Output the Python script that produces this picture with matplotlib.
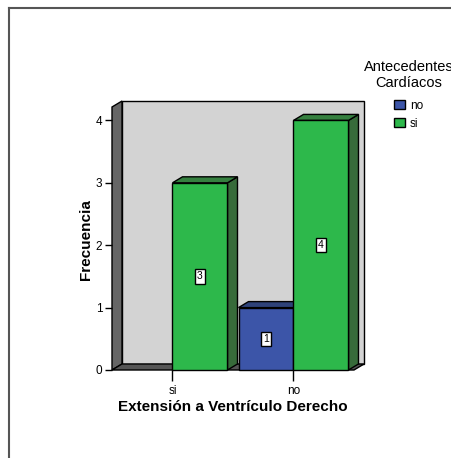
import matplotlib
matplotlib.use("Agg")
import matplotlib.pyplot as plt
from matplotlib.patches import Polygon, Rectangle, Patch
from matplotlib.lines import Line2D

plt.rcParams['font.family'] = ['Liberation Sans', 'DejaVu Sans']

# Data
categories = ["si", "no"]
series_names = ["no", "si"]
values_no = [0, 1]
values_si = [3, 4]
yticks = [0, 1, 2, 3, 4]

col_front = {"no": "#3c55a8", "si": "#2db84b"}
col_top = {"no": "#2e4279", "si": "#35803f"}
col_side = {"no": "#263563", "si": "#376b3a"}

W, H, DPI = 452, 458, 100
fig = plt.figure(figsize=(W / DPI, H / DPI), dpi=DPI)

# front plane of the plot box (pixel geometry)
left_px, right_px, bottom_px, top_px = 112, 354, 370, 107
ax = fig.add_axes([left_px / W, 1 - bottom_px / H,
                   (right_px - left_px) / W, (bottom_px - top_px) / H])
xmin, xmax = -0.5, 1.5
ymax = 4.215
ax.set_xlim(xmin, xmax)
ax.set_ylim(0, ymax)
for s in ax.spines.values():
    s.set_visible(False)
ax.patch.set_visible(False)

# depth offset of the 3D box, in data units
fig.canvas.draw()
p0 = ax.transData.transform((0, 0))
inv = ax.transData.inverted()
ddx, ddy = inv.transform((p0[0] + 10, p0[1] + 6)) - inv.transform(p0)

def face(pts, color, z):
    ax.add_patch(Polygon(pts, closed=True, facecolor=color, edgecolor="black",
                         linewidth=1.0, clip_on=False, zorder=z))

# walls
ax.add_patch(Rectangle((xmin + ddx, ddy), xmax - xmin, ymax, facecolor="#d3d3d3",
                       edgecolor="black", linewidth=1.0, clip_on=False, zorder=0.5))
face([(xmin, 0), (xmin, ymax), (xmin + ddx, ymax + ddy), (xmin + ddx, ddy)], "#666666", 0.6)
face([(xmin, 0), (xmax, 0), (xmax + ddx, ddy), (xmin + ddx, ddy)], "#555555", 0.6)

# bars
bw = 0.4545
bars = []
for i, cat in enumerate(categories):
    for j, (name, vals) in enumerate(zip(series_names, [values_no, values_si])):
        x0 = i + (j - 1) * bw
        bars.append((x0, vals[i], name))

for k, (x0, v, name) in enumerate(bars):
    z = 2 + 3 * k
    x1 = x0 + bw
    if v > 0:
        face([(x1, 0), (x1, v), (x1 + ddx, v + ddy), (x1 + ddx, ddy)], col_side[name], z)
        face([(x0, v), (x1, v), (x1 + ddx, v + ddy), (x0 + ddx, v + ddy)], col_top[name], z + 0.5)
        ax.bar(x0, v, width=bw, align="edge", color=col_front[name],
               edgecolor="black", linewidth=1.0, zorder=z + 1, clip_on=False)
        ax.text(x0 + bw / 2, v / 2, str(v), ha="center", va="center", fontsize=7.5,
                zorder=z + 2,
                bbox=dict(boxstyle="square,pad=0.22", facecolor="white",
                          edgecolor="black", linewidth=1.0))

# axes ticks
ax.set_yticks(yticks)
ax.set_yticklabels([str(t) for t in yticks], fontsize=8.5)
ax.set_xticks(range(len(categories)))
ax.set_xticklabels(categories, fontsize=8.5)
ax.tick_params(axis="y", length=5, width=1, pad=2)
ax.tick_params(axis="x", length=8, width=1, pad=3)

fig.text(86 / W, 1 - 240 / H, "Frecuencia", rotation=90, ha="center", va="center",
         fontsize=11, fontweight="bold")
fig.text(233 / W, 1 - 407 / H, "Extensión a Ventrículo Derecho", ha="center",
         va="center", fontsize=11, fontweight="bold")

# legend
leg_handles = [Patch(facecolor=col_front[n], edgecolor="black", linewidth=1.0)
               for n in series_names]
leg = fig.legend(leg_handles, series_names, title="Antecedentes\nCardíacos",
                 loc="upper left", bbox_to_anchor=(358 / W, 1 - 54 / H),
                 frameon=False, fontsize=8.5, title_fontsize=10.5,
                 handlelength=0.85, handleheight=0.85, handletextpad=0.45,
                 labelspacing=0.5, borderpad=0.0)
leg._legend_box.align = "center"
leg._legend_box.sep = 7
leg.get_title().set_multialignment("center")

# outer frame
fig.add_artist(Line2D([9 / W, 9 / W], [0, 1 - 8 / H], color="#555555", linewidth=1.5))
fig.add_artist(Line2D([9 / W, 1], [1 - 8 / H, 1 - 8 / H], color="#555555", linewidth=1.5))

fig.savefig("out.png", dpi=DPI)
